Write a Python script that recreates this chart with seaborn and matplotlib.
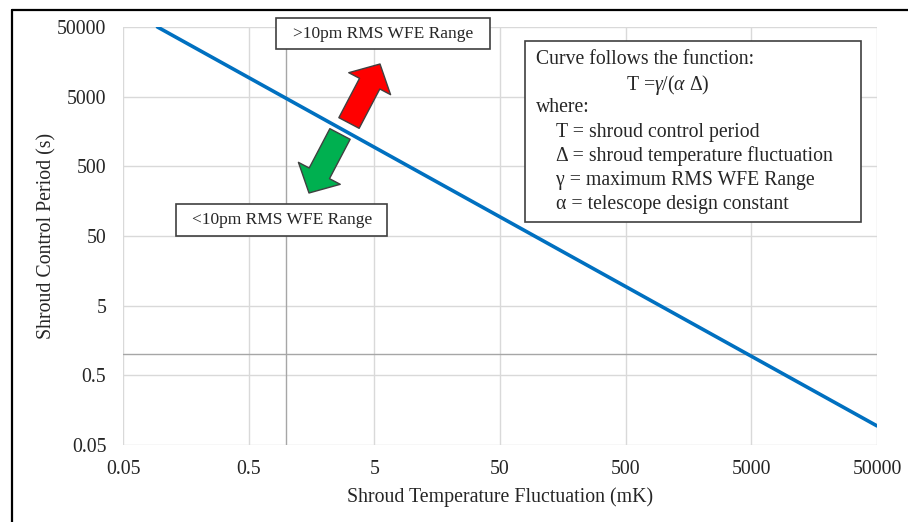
import matplotlib
matplotlib.use("Agg")
import matplotlib.pyplot as plt
import seaborn as sns
import numpy as np
import pandas as pd
from matplotlib.patches import Rectangle
from matplotlib.lines import Line2D
from matplotlib.ticker import FixedLocator, NullLocator

# ---- data ----
delta_mK = [0.094, 1, 10, 100, 1000, 10000, 50000]
period_s = [50000, 4700, 470, 47, 4.7, 0.47, 0.094]
x_ticks = [0.05, 0.5, 5, 50, 500, 5000, 50000]
x_tick_labels = ["0.05", "0.5", "5", "50", "500", "5000", "50000"]
y_ticks = [0.05, 0.5, 5, 50, 500, 5000, 50000]
y_tick_labels = ["0.05", "0.5", "5", "50", "500", "5000", "50000"]
x_label = "Shroud Temperature Fluctuation (mK)"
y_label = "Shroud Control Period (s)"
upper_label = ">10pm RMS WFE Range"
lower_label = "<10pm RMS WFE Range"
info_lines = [
    "Curve follows the function:",
    "where:",
    "T = shroud control period",
    "Δ = shroud temperature fluctuation",
    "γ = maximum RMS WFE Range",
    "α = telescope design constant",
]

sns.set_theme(style="white")
plt.rcParams["font.family"] = ["Liberation Serif", "DejaVu Serif"]
plt.rcParams["mathtext.fontset"] = "custom"
plt.rcParams["mathtext.rm"] = "Liberation Serif"
plt.rcParams["mathtext.it"] = "Liberation Serif:italic"

W, H = 908, 522
fig = plt.figure(figsize=(W / 100, H / 100), dpi=100)
ax = fig.add_axes([123 / W, 1 - 445 / H, (877 - 123) / W, (445 - 27) / H])

df = pd.DataFrame({"delta": delta_mK, "period": period_s})
sns.lineplot(data=df, x="delta", y="period", ax=ax, color="#0070C0", lw=2.6, zorder=5)

ax.set_xscale("log")
ax.set_yscale("log")
ax.set_xlim(0.05, 50000)
ax.set_ylim(0.05, 50000)
ax.xaxis.set_major_locator(FixedLocator(x_ticks))
ax.yaxis.set_major_locator(FixedLocator(y_ticks))
ax.xaxis.set_minor_locator(NullLocator())
ax.yaxis.set_minor_locator(NullLocator())
ax.set_xticklabels(x_tick_labels)
ax.set_yticklabels(y_tick_labels)
ax.tick_params(length=0, labelsize=14.3, colors="#262626")
ax.tick_params(axis="x", pad=11)
ax.tick_params(axis="y", pad=12)
ax.grid(True, which="major", color="#d9d9d9", lw=1.0)
for s in ax.spines.values():
    s.set_visible(False)
ax.axvline(1, color="#a6a6a6", lw=1.0, zorder=2)
ax.axhline(1, color="#a6a6a6", lw=1.0, zorder=2)

ax.set_xlabel(x_label, fontsize=14.3, color="#262626", labelpad=6)
ax.set_ylabel(y_label, fontsize=14.3, color="#262626", labelpad=0)

# outer border (top and left)
fig.add_artist(Line2D([11.5 / W, 1], [1 - 9.5 / H, 1 - 9.5 / H], transform=fig.transFigure, color="black", lw=1.6))
fig.add_artist(Line2D([11.5 / W, 11.5 / W], [0, 1 - 9.5 / H], transform=fig.transFigure, color="black", lw=1.6))


def box(x0, y0, x1, y1):
    r = Rectangle((x0 / W, 1 - y1 / H), (x1 - x0) / W, (y1 - y0) / H, transform=fig.transFigure,
                  facecolor="white", edgecolor="#404040", lw=1.2, zorder=10)
    fig.add_artist(r)


def ftext(x, y, s, ha="left", size=14.2, **kw):
    fig.text(x / W, 1 - y / H, s, ha=ha, va="center", fontsize=size, color="#262626", zorder=11, **kw)


box(276, 18, 490, 49)
ftext(383, 34, upper_label, ha="center", size=12.5)
box(176, 204, 387, 236)
ftext(282, 220, lower_label, ha="center", size=12.5)
box(525, 41, 861, 222)
ftext(536, 60, info_lines[0])
ftext(668, 85, r"T =$\gamma$/($\alpha$ Δ)", ha="center")
ftext(536, 108, info_lines[1])
for i, s in enumerate(info_lines[2:]):
    ftext(556, 132 + 24 * i, s)

# arrows (figure pixels)
style = "simple,head_length=16,head_width=34,tail_width=16.5"
ax.annotate("", xy=(380, H - 64), xytext=(349, H - 123), xycoords="figure pixels", textcoords="figure pixels",
            arrowprops=dict(arrowstyle=style, mutation_scale=1, fc="#FF0000", ec="#404040", lw=1, shrinkA=0, shrinkB=0),
            zorder=12, annotation_clip=False)
ax.annotate("", xy=(309, H - 193), xytext=(340, H - 134), xycoords="figure pixels", textcoords="figure pixels",
            arrowprops=dict(arrowstyle=style, mutation_scale=1, fc="#00B050", ec="#404040", lw=1, shrinkA=0, shrinkB=0),
            zorder=12, annotation_clip=False)

fig.savefig("out.png", dpi=100)
